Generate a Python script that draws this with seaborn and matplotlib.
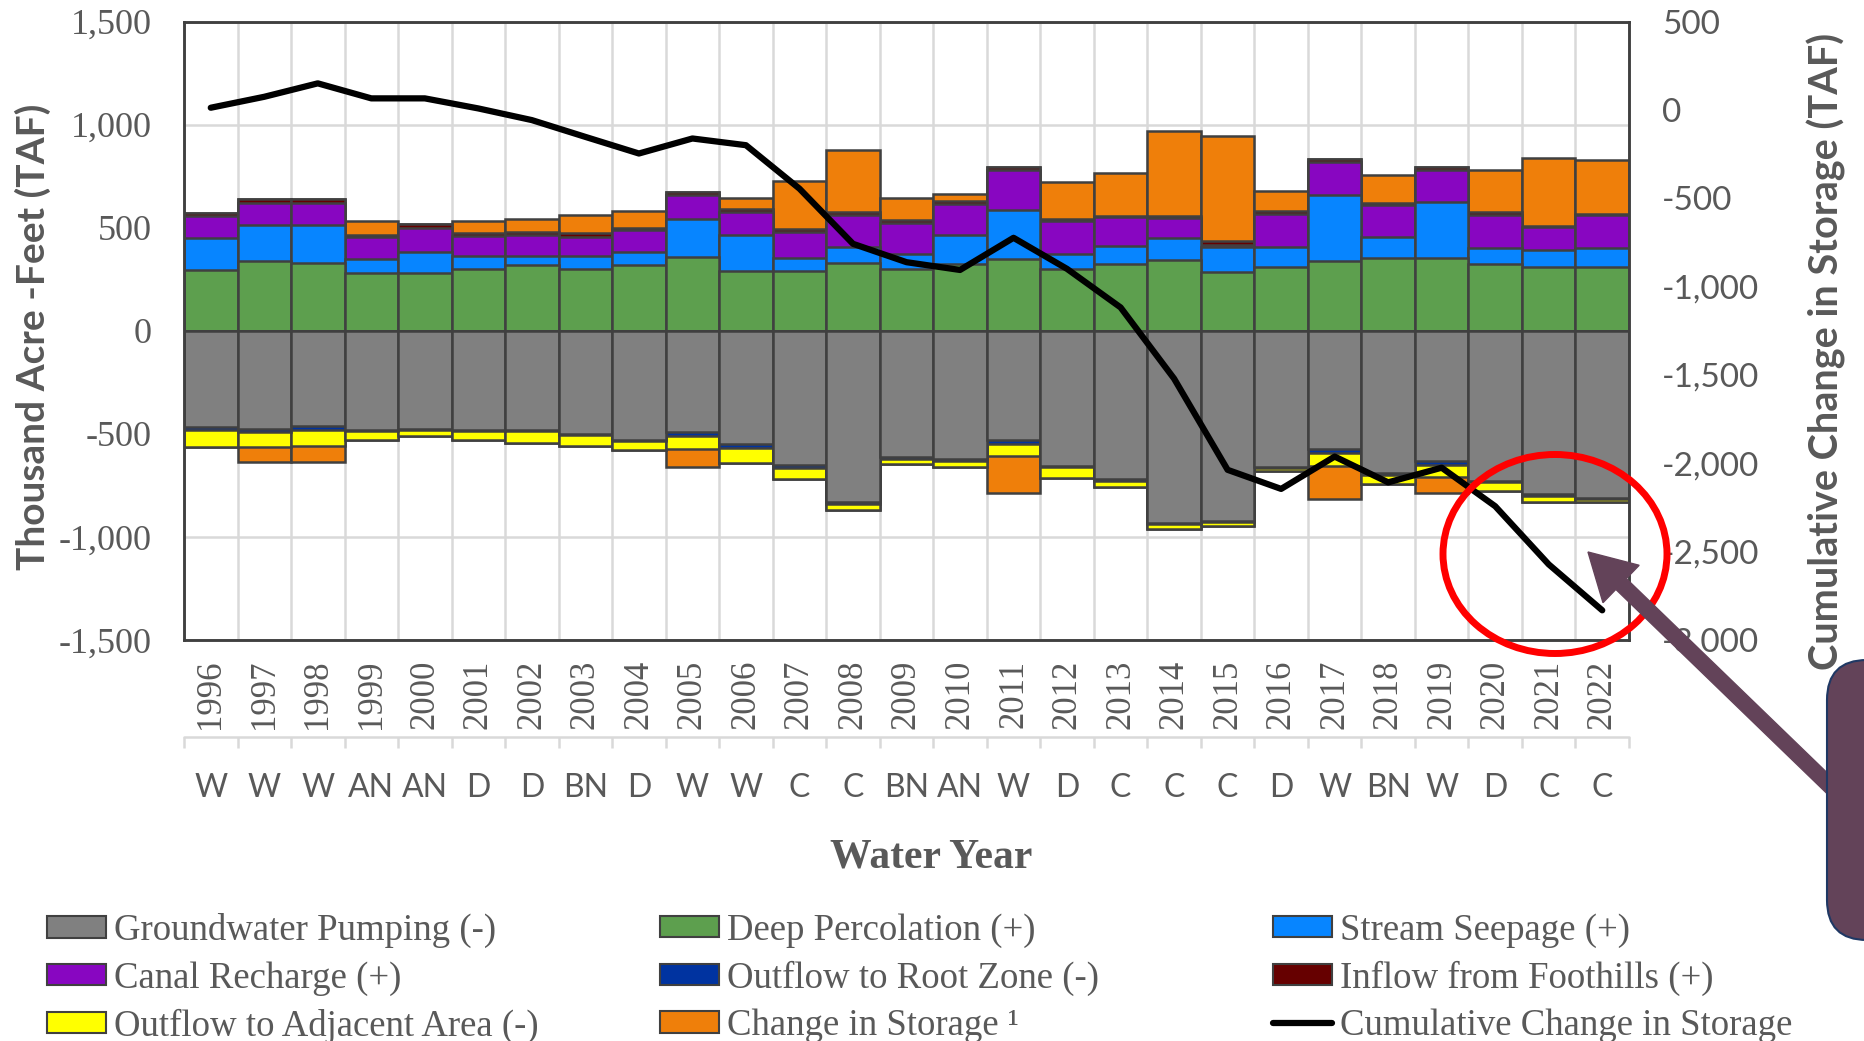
import numpy as np
import matplotlib
matplotlib.use("Agg")
import matplotlib.pyplot as plt
import seaborn as sns
from matplotlib.patches import Ellipse, FancyArrow, FancyBboxPatch, Patch
from matplotlib.lines import Line2D

# --- data (TAF) ---
years = [str(y) for y in range(1996, 2023)]
year_types = ["W", "W", "W", "AN", "AN", "D", "D", "BN", "D", "W", "W", "C", "C", "BN",
              "AN", "W", "D", "C", "C", "C", "D", "W", "BN", "W", "D", "C", "C"]

deep_percolation = [296, 337, 329, 280, 280, 300, 318, 300, 318, 358, 290, 290, 331, 301,
                    326, 347, 301, 326, 345, 285, 309, 337, 355, 355, 326, 309, 309]
stream_seepage = [152, 176, 184, 67, 103, 62, 44, 62, 62, 184, 174, 65, 76, 70,
                  138, 239, 70, 84, 103, 119, 98, 323, 101, 269, 73, 82, 90]
canal_recharge = [109, 109, 109, 106, 114, 97, 102, 94, 109, 118, 111, 122, 155, 153,
                  152, 196, 163, 140, 101, 12, 160, 158, 152, 158, 163, 111, 163]
inflow_foothills = [16, 16, 16, 11, 19, 13, 16, 16, 9, 13, 16, 15, 13, 13,
                    14, 11, 8, 9, 8, 18, 16, 13, 11, 11, 13, 8, 5]
groundwater_pumping = [467, 475, 464, 483, 475, 483, 483, 499, 528, 491, 547, 649, 829, 612,
                       623, 528, 655, 721, 931, 921, 660, 575, 692, 633, 729, 794, 813]
outflow_root_zone = [16, 16, 18, 5, 5, 5, 5, 5, 5, 19, 21, 16, 11, 8,
                     7, 19, 7, 7, 5, 5, 8, 17, 8, 16, 6, 6, 5]
outflow_adjacent = [80, 73, 77, 43, 32, 43, 56, 55, 47, 65, 72, 56, 29, 24,
                    30, 61, 54, 32, 27, 19, 12, 63, 45, 59, 41, 29, 12]
# positive = storage loss (plotted above zero), negative = storage gain
change_in_storage = [0, -72, -77, 70, 0, 62, 62, 90, 83, -85, 52, 236, 301, 106,
                     33, -181, 178, 207, 410, 511, 96, -161, 135, -81, 207, 326, 259]
cumulative_change = [12, 74, 150, 65, 65, 8, -58, -153, -247, -162, -200, -446, -758, -862,
                     -906, -724, -900, -1118, -1521, -2037, -2145, -1962, -2108, -2025,
                     -2243, -2572, -2832]

GREY_TXT = "#595959"
EDGE = "#404040"
GRID = "#d9d9d9"
C_PUMP, C_DEEP, C_SEEP = "#808080", "#5d9f4e", "#0785ff"
C_CANAL, C_ROOT, C_FOOT = "#8806c1", "#0033a0", "#660000"
C_ADJ, C_STOR, C_ARROW = "#ffff00", "#ef7f0a", "#634359"

sns.set_style("white")
plt.rcParams["font.family"] = ["Liberation Serif", "DejaVu Sans"]

fig = plt.figure(figsize=(18.65, 10.41), dpi=100)
W, H = 1865, 1041
ax = fig.add_axes([184 / W, 1 - 640 / H, (1629 - 184) / W, (640 - 21.5) / H])

storage = np.array(change_in_storage)
pos_layers = [(deep_percolation, C_DEEP), (stream_seepage, C_SEEP), (canal_recharge, C_CANAL),
              (inflow_foothills, C_FOOT), (np.clip(storage, 0, None), C_STOR)]
neg_layers = [(-np.array(groundwater_pumping), C_PUMP), (-np.array(outflow_root_zone), C_ROOT),
              (-np.array(outflow_adjacent), C_ADJ), (np.clip(storage, None, 0), C_STOR)]

# stacked look: draw cumulative totals from the outermost layer inwards
for layers in (pos_layers, neg_layers):
    tops = np.cumsum([np.asarray(v, dtype=float) for v, _ in layers], axis=0)
    for (vals, col), top in reversed(list(zip(layers, tops))):
        sns.barplot(x=years, y=top, color=col, width=1.0, saturation=1, errorbar=None,
                    edgecolor=EDGE, linewidth=1.8, ax=ax)

ax.set_xlim(-0.5, len(years) - 0.5)
ax.set_ylim(-1500, 1500)
ax.set_axisbelow(True)

yt = list(range(-1500, 1501, 500))
ax.set_yticks(yt)
ax.set_yticklabels([f"{v:,}" for v in yt], fontsize=26, color=GREY_TXT)
ax.tick_params(axis="y", length=0, pad=23)

ax.set_xticks(range(len(years)))
ax.set_xticklabels(years, rotation=90, fontsize=25, color=GREY_TXT)
ax.set_xticks(np.arange(-0.5, len(years)), minor=True)
ax.tick_params(axis="x", which="major", length=0, pad=14)
ax.tick_params(axis="x", which="minor", direction="inout", length=17, width=1.5, color=EDGE)
ax.grid(True, which="minor", axis="x", color=GRID, lw=1.8)
ax.grid(True, which="major", axis="y", color=GRID, lw=1.8)
ax.grid(False, which="major", axis="x")
ax.set_xlabel("")
ax.set_ylabel("")
for s in ax.spines.values():
    s.set_color(EDGE)
    s.set_linewidth(1.8)

# year-type row under the years
xt = ax.get_xaxis_transform()
bounds = np.arange(-0.5, len(years))
ax.plot([-0.5, len(years) - 0.5], [-0.157, -0.157], transform=xt, clip_on=False, color=GRID, lw=1.8)
ax.vlines(bounds, -0.175, -0.157, transform=xt, clip_on=False, color=GRID, lw=1.8)
for i, t in enumerate(year_types):
    ax.text(i, -0.2395, t, transform=xt, ha="center", va="center", fontsize=23,
            family="Lato", color=GREY_TXT)

ax2 = ax.twinx()
sns.lineplot(x=np.arange(len(years)), y=cumulative_change, color="black", linewidth=4.5, ax=ax2)
ax2.set_ylim(-3000, 500)
ax2.set_xlim(-0.5, len(years) - 0.5)
yt2 = list(range(-3000, 501, 500))
ax2.set_yticks(yt2)
ax2.set_yticklabels([f"{v:,}" for v in yt2], fontsize=24, family="Lato", color=GREY_TXT)
ax2.tick_params(axis="y", length=0, pad=24)
for s in ax2.spines.values():
    s.set_color(EDGE)
    s.set_linewidth(1.8)

fig.text(33 / W, 1 - 337 / H, "Thousand Acre -Feet (TAF)", rotation=90, ha="center", va="center",
         family="Lato", weight="bold", fontsize=28, color=GREY_TXT)
fig.text(1826 / W, 1 - 351 / H, "Cumulative Change in Storage (TAF)", rotation=90, ha="center",
         va="center", family="Lato", weight="bold", fontsize=28.5, color=GREY_TXT)
fig.text(931 / W, 1 - 858 / H, "Water Year", ha="center", va="center", weight="bold",
         fontsize=30, color=GREY_TXT)

# legend in three columns
def box(c):
    return Patch(facecolor=c, edgecolor=EDGE, linewidth=1.5)

columns = [
    [(box(C_PUMP), "Groundwater Pumping (-)"), (box(C_CANAL), "Canal Recharge (+)"),
     (box(C_ADJ), "Outflow to Adjacent Area (-)")],
    [(box(C_DEEP), "Deep Percolation (+)"), (box(C_ROOT), "Outflow to Root Zone (-)"),
     (box(C_STOR), "Change in Storage \u00b9")],
    [(box(C_SEEP), "Stream Seepage (+)"), (box(C_FOOT), "Inflow from Foothills (+)"),
     (Line2D([], [], color="black", lw=4.5), "Cumulative Change in Storage")],
]
for x0, col in zip([47, 660, 1273], columns):
    leg = fig.legend([h for h, _ in col], [l for _, l in col], loc="upper left",
                     bbox_to_anchor=(x0 / W, 1 - 913 / H), frameon=False, fontsize=26.5,
                     borderpad=0, borderaxespad=0, labelspacing=0.35, handlelength=1.6,
                     handleheight=0.52, handletextpad=0.23)
    for t in leg.get_texts():
        t.set_color(GREY_TXT)

# call-out annotation
tr = fig.dpi_scale_trans
fig.add_artist(Ellipse((15.55, (H - 554) / 100), 2.24, 1.99, transform=tr, fill=False,
                       edgecolor="red", lw=5, zorder=10))
fig.add_artist(FancyArrow(18.60, (H - 815) / 100, -2.72, 2.63, width=0.15, head_width=0.52,
                          head_length=0.46, length_includes_head=True, transform=tr,
                          color=C_ARROW, zorder=11))
fig.add_artist(FancyBboxPatch((18.27, (H - 940) / 100), 2.0, 2.8, transform=tr,
                              boxstyle="round,pad=0,rounding_size=0.4", facecolor=C_ARROW,
                              edgecolor="#1f3864", lw=1.5, zorder=12))

fig.savefig("out.png", dpi=100)
